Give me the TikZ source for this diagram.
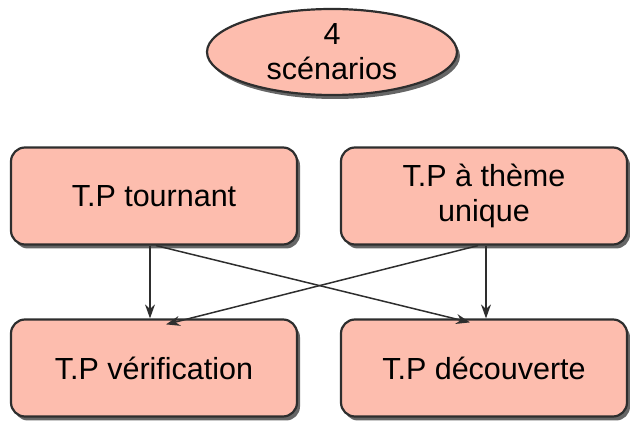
\documentclass[tikz,border=0pt]{standalone}
\usepackage{fontspec}
\setmainfont{Liberation Sans}
\usetikzlibrary{shadows,shapes.geometric,arrows.meta}
\definecolor{salmon}{HTML}{FDBDAE}
\definecolor{edge}{HTML}{2E2E2E}
\begin{document}
\begin{tikzpicture}[x=1pt,y=-1pt,
  box/.style={draw=edge,line width=2.2pt,fill=salmon,rounded corners=14pt,
    minimum width=286pt,minimum height=97pt,align=center,font=\fontsize{30.5}{35}\selectfont,
    drop shadow={shadow xshift=3pt,shadow yshift=-4pt,fill=black!80,opacity=0.75}},
  oval/.style={ellipse,draw=edge,line width=2.2pt,fill=salmon,inner sep=0pt,
    minimum width=250pt,minimum height=86pt,align=center,font=\fontsize{30.5}{35}\selectfont,
    drop shadow={shadow xshift=3pt,shadow yshift=-4pt,fill=black!80,opacity=0.75}},
  conn/.style={draw=edge,line width=1.5pt,-{Stealth[length=14pt,width=10pt]}}]
\useasboundingbox (0,0) rectangle (630,427);
\node[oval] (s) at (332,52) {4\\scénarios};
\node[box] (a) at (154,196) {T.P tournant};
\node[box] (b) at (484,196) {T.P à thème\\unique};
\node[box] (c) at (154,368) {T.P vérification};
\node[box] (d) at (484,368) {T.P découverte};
\draw[conn] ([xshift=-4pt]a.south) -- ([xshift=-4pt]c.north);
\draw[conn] ([xshift=2pt]b.south) -- ([xshift=2pt]d.north);
\draw[conn] ([xshift=2pt]a.south) -- ([xshift=-14pt,yshift=-4pt]d.north);
\draw[conn] ([xshift=-6pt]b.south) -- ([xshift=12pt,yshift=-6pt]c.north);
\end{tikzpicture}
\end{document}
